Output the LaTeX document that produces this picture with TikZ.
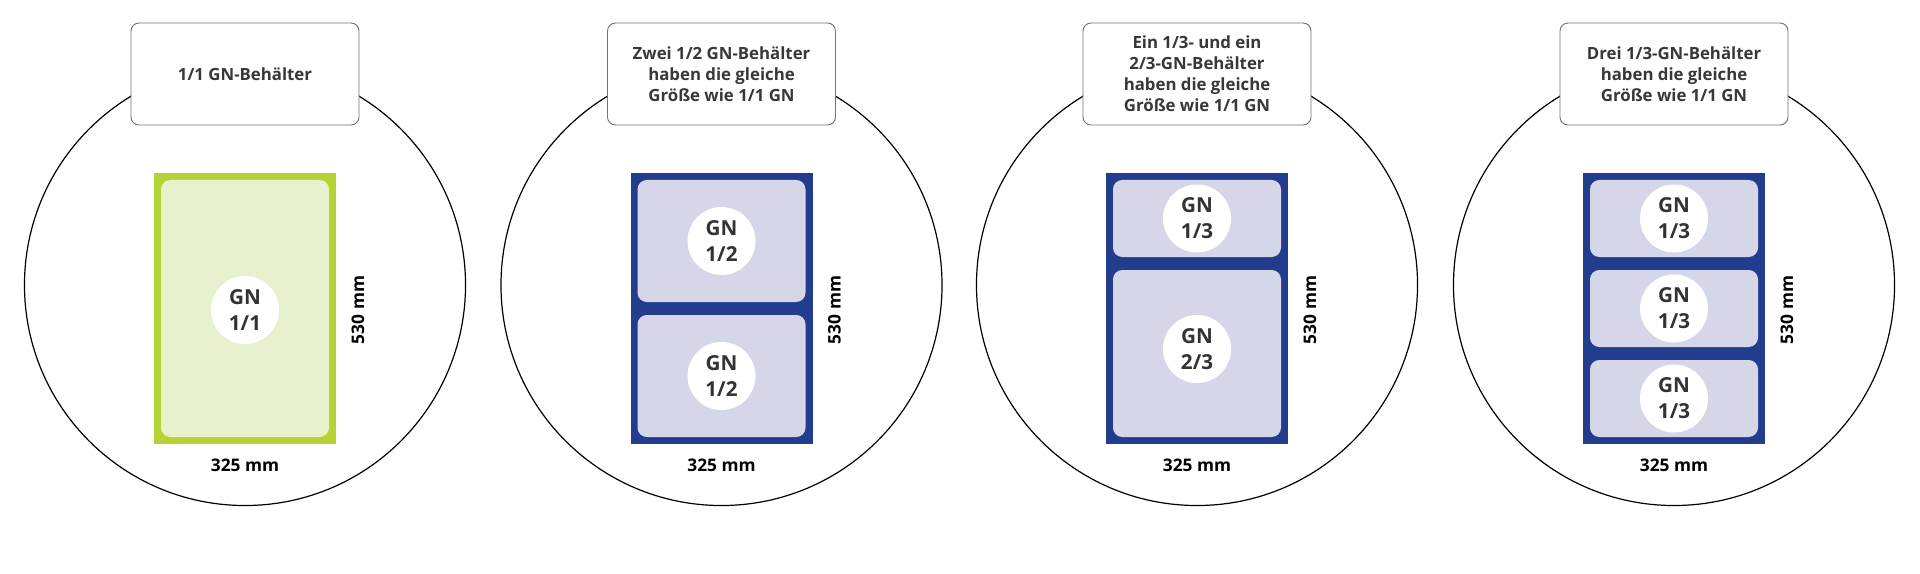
\documentclass[tikz,border=0pt]{standalone}
\usepackage{fontspec}
\setmainfont{Open Sans}
\begin{document}
\begin{tikzpicture}[x=0.75pt,y=-0.75pt,
  ring/.style={draw=black,line width=0.9pt,fill=white},
  head/.style={draw=black!55,line width=0.7pt,fill=white,rounded corners=6pt,minimum width=171pt,minimum height=76.5pt,inner sep=0pt,align=center,font=\bfseries\fontsize{12.6}{15.8}\selectfont,text=black!78},
  gframe/.style={fill=green!55!yellow!85!black!0,fill={rgb,255:red,181;green,211;blue,53}},
  bframe/.style={fill={rgb,255:red,35;green,61;blue,142}},
  gtile/.style={fill={rgb,255:red,232;green,241;blue,206},rounded corners=7pt},
  btile/.style={fill={rgb,255:red,213;green,214;blue,232},rounded corners=7pt},
  lab/.style={circle,fill=white,minimum size=51pt,inner sep=0pt,align=center,font=\bfseries\fontsize{15.5}{19.5}\selectfont,text=black!80},
  dim/.style={font=\bfseries\fontsize{13}{15}\selectfont,text=black}]
\useasboundingbox (0,0) rectangle (1920,574);
\fill[white] (0,0) rectangle (1920,574);
% circles
\foreach \c/\n in {245/1,721.5/2,1197/3,1674/4}{
  \draw[ring] (\c,285) circle[radius=165.4pt];
}
% boxes
\node[head] (h1) at (245,74) {1/1 GN-Behälter};
\node[head] (h2) at (721.5,74) {Zwei 1/2 GN-Behälter\\haben die gleiche\\Größe wie 1/1 GN};
\node[head] (h3) at (1197,74) {Ein 1/3- und ein\\2/3-GN-Behälter\\haben die gleiche\\Größe wie 1/1 GN};
\node[head] (h4) at (1674,74) {Drei 1/3-GN-Behälter\\haben die gleiche\\Größe wie 1/1 GN};
% panel 1
\fill[gframe] (154,173) rectangle (336,444);
\fill[gtile] (161,180) rectangle (329,437);
\node[lab] (l1) at (245,310) {GN\\1/1};
% panel 2
\fill[bframe] (630.5,173) rectangle (812.5,444);
\fill[btile] (637.5,180) rectangle (805.5,302);
\fill[btile] (637.5,315) rectangle (805.5,437);
\node[lab] (l2a) at (721.5,241) {GN\\1/2};
\node[lab] (l2b) at (721.5,376) {GN\\1/2};
% panel 3
\fill[bframe] (1106,173) rectangle (1288,444);
\fill[btile] (1113,180) rectangle (1281,257);
\fill[btile] (1113,270) rectangle (1281,437);
\node[lab] (l3a) at (1197,218.5) {GN\\1/3};
\node[lab] (l3b) at (1197,349) {GN\\2/3};
% panel 4
\fill[bframe] (1583,173) rectangle (1765,444);
\fill[btile] (1590,180) rectangle (1758,257);
\fill[btile] (1590,270) rectangle (1758,347);
\fill[btile] (1590,360) rectangle (1758,437);
\node[lab] (l4a) at (1674,218.5) {GN\\1/3};
\node[lab] (l4b) at (1674,308.5) {GN\\1/3};
\node[lab] (l4c) at (1674,398.5) {GN\\1/3};
% dimensions
\foreach \c/\n in {245/1,721.5/2,1197/3,1674/4}{
  \node[dim] (w\n) at (\c,465) {325 mm};
  \node[dim,rotate=90] (v\n) at (\c+113,310) {530 mm};
}
\end{tikzpicture}
\end{document}
